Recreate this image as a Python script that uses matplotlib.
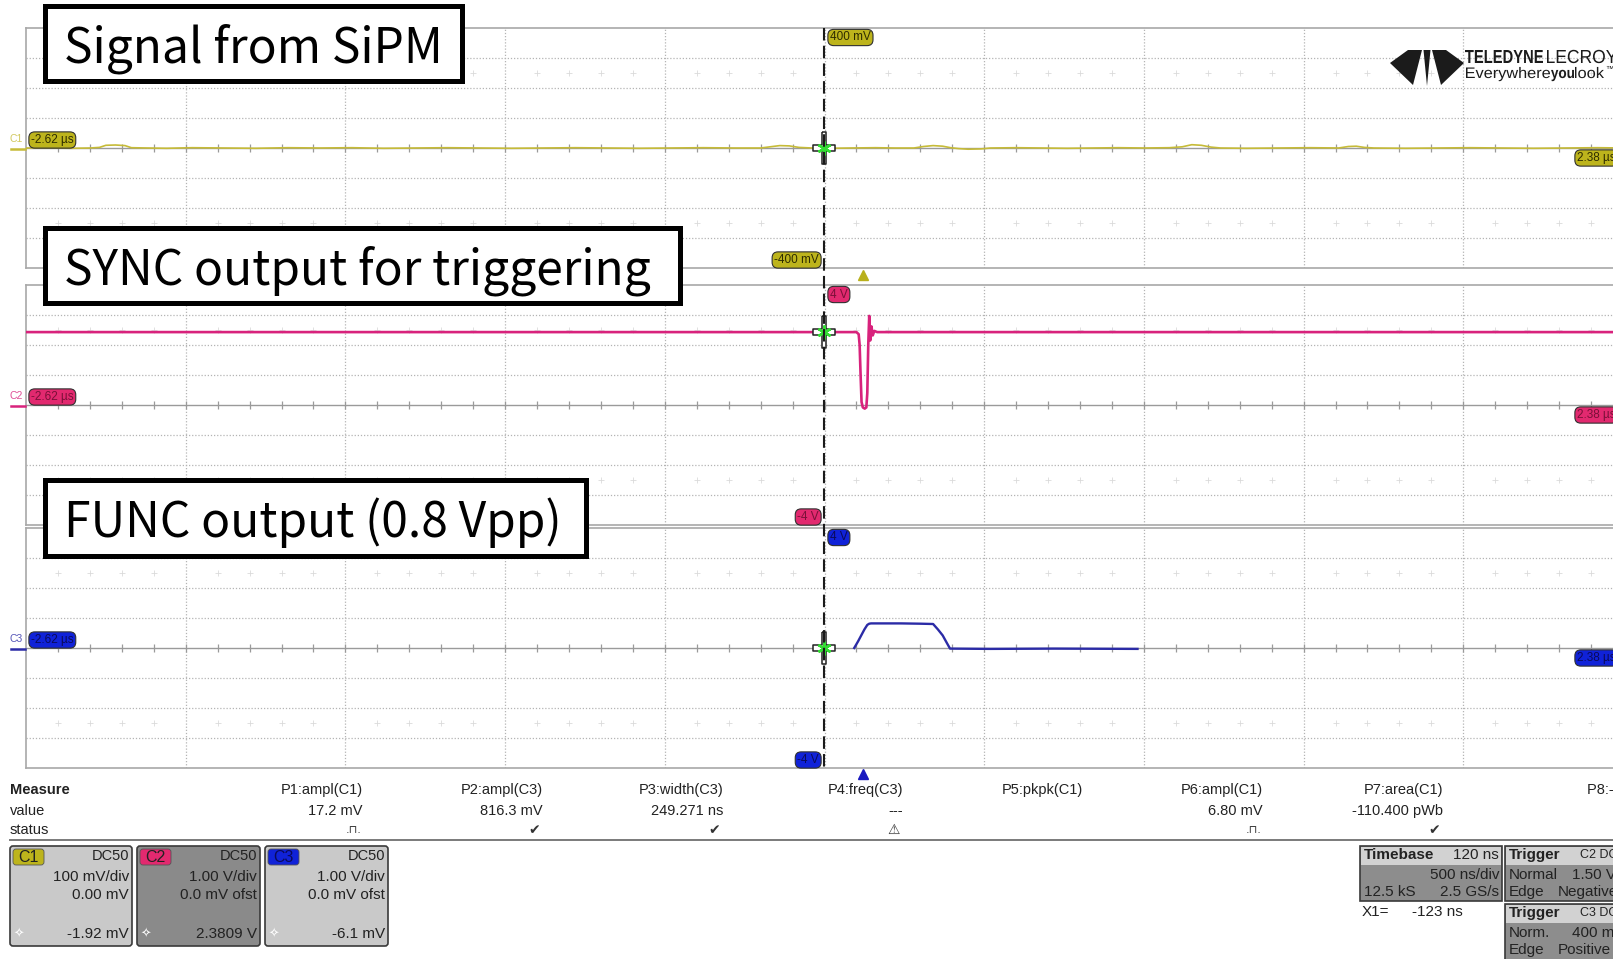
import numpy as np
import matplotlib
matplotlib.use("Agg")
import matplotlib.pyplot as plt
import matplotlib.transforms as mtransforms
from matplotlib.patches import FancyBboxPatch, Rectangle, Polygon, PathPatch
from matplotlib.lines import Line2D
from matplotlib.textpath import TextPath
from matplotlib.font_manager import FontProperties

# ------------------------------------------------------------------ data
t_left_ns = -2620          # left edge of screen (-2.62 us)
ns_per_div = 500           # 500 ns/div
n_xdiv = 10
cursor_x1_ns = -123        # X1 cursor
trigger_t_ns = 0

# C1: signal from SiPM (mV), 100 mV/div
c1_t = [-2620, -2560, -2480, -2420, -2390, -2370, -2340, -2310, -2290, -2240,
        -2180, -2100, -2000, -1900, -1800, -1700, -1600, -1500, -1400, -1300,
        -1200, -1100, -1000, -900, -800, -700, -600, -500, -400, -320,
        -290, -260, -230, -200, -160, -100, -40, 40, 100, 160,
        190, 220, 250, 275, 300, 330, 370, 400, 480, 560,
        640, 720, 800, 880, 960, 1000, 1030, 1060, 1090, 1120,
        1200, 1300, 1400, 1490, 1520, 1545, 1570, 1600, 1700, 1800,
        1900, 2000, 2100, 2200, 2300, 2380]
c1_mv = [0, 0.5, -1, 0, 2, 9, 10, 8, 1, 0,
         -1, 1, 0, -1, 1, 0, 1, -1, 0, 1,
         0, -1, 0, 1, 0, -1, 0, 1, 0, 0,
         4, 8, 7, 2, 0, -1, 0, 1, 0, 0,
         5, 8, 6, 1, -2, -4, -3, 0, 1, 0,
         -1, 0, 1, 0, 1, 4, 11, 9, 3, 0,
         -1, 0, 1, 0, 5, 6, 2, 0, -1, 0,
         1, 0, -1, 0, 1, 0]

# C2: SYNC output (V), 1 V/div
c2_t = [-2620, -20, -13, -10, -7, -4, 0, 6, 11, 14, 17, 20, 23, 27, 31, 36, 45, 2380]
c2_v = [2.43, 2.43, 2.36, 2.0, 1.0, 0.1, -0.08, -0.12, -0.08, 0.4, 2.0, 2.97,
        2.15, 2.62, 2.32, 2.47, 2.43, 2.43]

# C3: FUNC output (V), 1 V/div
c3_t = [-27, -15, -5, 5, 14, 20, 26, 60, 120, 180, 220, 235, 250, 264, 273, 400, 600, 860]
c3_v = [0.0, 0.22, 0.42, 0.62, 0.77, 0.81, 0.82, 0.82, 0.82, 0.81, 0.80, 0.62,
        0.42, 0.15, -0.02, -0.03, -0.02, -0.03]

ch_names = ["C1", "C2", "C3"]
ch_div = [100, 1.0, 1.0]
ch_top_label = ["400 mV", "4 V", "4 V"]
ch_bot_label = ["-400 mV", "-4 V", "-4 V"]
left_time_label = "-2.62 µs"
right_time_label = "2.38 µs"
panel_titles = ["Signal from SiPM", "SYNC output for triggering", "FUNC output (0.8 Vpp)"]

meas_names = ["P1:ampl(C1)", "P2:ampl(C3)", "P3:width(C3)", "P4:freq(C3)",
              "P5:pkpk(C1)", "P6:ampl(C1)", "P7:area(C1)", "P8:- -"]
meas_values = ["17.2 mV", "816.3 mV", "249.271 ns", "---", "", "6.80 mV", "-110.400 pWb", ""]
meas_status = ["pulse", "ok", "ok", "warn", "", "pulse", "ok", ""]

ch_coupling = ["DC50", "DC50", "DC50"]
ch_vdiv = ["100 mV/div", "1.00 V/div", "1.00 V/div"]
ch_offset = ["0.00 mV", "0.0 mV ofst", "0.0 mV ofst"]
ch_readout = ["-1.92 mV", "2.3809 V", "-6.1 mV"]

timebase = ["Timebase", "120 ns", "500 ns/div", "12.5 kS", "2.5 GS/s"]
x1_text = ["X1=", "-123 ns"]
trig1 = ["Trigger", "C2 DC50", "Normal", "1.50 V", "Edge", "Negative"]
trig2 = ["Trigger", "C3 DC50", "Norm.", "400 mV", "Edge", "Positive"]

# ------------------------------------------------------------------ style
W, H = 1613, 959
fig = plt.figure(figsize=(W / 100, H / 100), dpi=100)
fig.patch.set_facecolor("white")
pix = mtransforms.Affine2D().scale(1 / W, -1 / H).translate(0, 1) + fig.transFigure

UI = ["Liberation Sans", "DejaVu Sans"]
BIG = ["Noto Sans CJK KR", "DejaVu Sans"]

trace_col = ["#c6bb38", "#d8227c", "#2b2ba6"]
tag_col = ["#bdb41c", "#e2296f", "#1022d8"]
tag_txt = ["#2e2c00", "#7a1038", "#0a0a5a"]

panels_px = [(28, 268), (285, 525), (528, 768)]
x0_px, x1_px = 26, 26 + 159.7 * n_xdiv

def T(x, y, s, **kw):
    kw.setdefault("transform", pix)
    return fig.text(x, y, s, **kw)

axes = []
for i, (ytop, ybot) in enumerate(panels_px):
    ax = fig.add_axes([x0_px / W, 1 - ybot / H, (x1_px - x0_px) / W, (ybot - ytop) / H])
    ax.set_xlim(t_left_ns, t_left_ns + n_xdiv * ns_per_div)
    d = ch_div[i]
    ax.set_ylim(-4 * d, 4 * d)
    ax.set_xticks([]); ax.set_yticks([])
    for sp in ax.spines.values():
        sp.set_color("#a8a8a8"); sp.set_linewidth(1.2)
    for k in range(1, n_xdiv):
        ax.axvline(t_left_ns + k * ns_per_div, color="#b4b4b4", lw=0.9, ls=(0, (1, 1.5)), zorder=1)
    for k in [-3, -2, -1, 1, 2, 3]:
        ax.axhline(k * d, color="#b4b4b4", lw=0.9, ls=(0, (1, 1.5)), zorder=1)
    ax.axhline(0, color="#9a9a9a", lw=1.0, zorder=1)
    minor = np.arange(t_left_ns + ns_per_div / 5, t_left_ns + n_xdiv * ns_per_div, ns_per_div / 5)
    ax.plot(minor, np.zeros_like(minor), ls="none", marker="|", ms=6, mew=0.9, color="#9a9a9a", zorder=1)
    mk = np.array([m for m in minor if abs(((m - t_left_ns) / ns_per_div) % 1) > 0.05
                   and abs(((m - t_left_ns) / ns_per_div) % 1) < 0.95])
    for yy in (2.5 * d, -2.5 * d):
        ax.plot(mk, np.full_like(mk, yy), ls="none", marker="+", ms=4, mew=0.6, color="#dadada", zorder=1)
    axes.append(ax)

ax1, ax2, ax3 = axes
ax1.plot(c1_t, c1_mv, color=trace_col[0], lw=1.2, zorder=3)
ax2.plot(c2_t, c2_v, color=trace_col[1], lw=1.9, zorder=3)
ax3.plot(c3_t, c3_v, color=trace_col[2], lw=1.7, zorder=3)

# cursor X1 (dashed vertical line across all panels)
bl = mtransforms.blended_transform_factory(ax1.transData, pix)
fig.add_artist(Line2D([cursor_x1_ns, cursor_x1_ns], [28, 768], transform=bl,
                      color="#1a1a1a", lw=1.5, ls=(0, (6, 2.5)), zorder=5))

cross = [(-0.22, 1.5), (0.22, 1.5), (0.22, 0.3), (1.05, 0.3), (1.05, -0.3), (0.22, -0.3),
         (0.22, -1.5), (-0.22, -1.5), (-0.22, -0.3), (-1.05, -0.3), (-1.05, 0.3),
         (-0.22, 0.3), (-0.22, 1.5)]
for ax, tt, vv in [(ax1, c1_t, c1_mv), (ax2, c2_t, c2_v), (ax3, c3_t, c3_v)]:
    yv = np.interp(cursor_x1_ns, tt, vv, left=0.0, right=0.0)
    ax.plot([cursor_x1_ns], [yv], marker=cross, ms=23, mfc="white", mec="#222222", mew=1.1,
            ls="none", zorder=6, clip_on=False)
    ax.plot([cursor_x1_ns], [yv], marker=(6, 2, 0), ms=10, mec="#33dd33", mew=1.8,
            ls="none", zorder=7, clip_on=False)

# trigger-position triangles
fig.add_artist(Line2D([trigger_t_ns], [274.5], transform=bl, marker="^", ms=7,
                      color="#b9b01c", ls="none"))
fig.add_artist(Line2D([trigger_t_ns], [773.5], transform=bl, marker="^", ms=7,
                      color="#1a1ac0", ls="none"))

# channel labels on the traces
def tag(x, y, s, i, ha="left"):
    T(x, y, s, ha=ha, va="center", fontsize=8.5, family=UI, color=tag_txt[i], zorder=8,
      bbox=dict(boxstyle="round,pad=0.18,rounding_size=0.5", fc=tag_col[i], ec="#303030", lw=0.8))

for i, (ytop, ybot) in enumerate(panels_px):
    yc = (ytop + ybot) / 2
    tag(31, yc - 8, left_time_label, i)
    tag(1577, yc + 10, right_time_label, i)
    tag(830, ytop + 9.5, ch_top_label[i], i)
    tag(819, ybot - 8, ch_bot_label[i], i, ha="right")
    T(16, yc - 9, ch_names[i], ha="center", va="center", fontsize=7.5, family=UI,
      color=trace_col[i], alpha=0.8)
    fig.add_artist(Line2D([11, 25], [yc + 0.5, yc + 0.5], transform=pix, color=trace_col[i], lw=1.8))

# annotation boxes
ann_boxes = [(43, 4, 464, 83), (43, 226, 682, 305), (43, 478, 588, 558)]
for (bx0, by0, bx1, by1), s in zip(ann_boxes, panel_titles):
    fig.add_artist(Rectangle((bx0 + 2, by0 + 2), bx1 - bx0 - 4, by1 - by0 - 4, transform=pix,
                             fc="white", ec="black", lw=3.6, zorder=10))
    T(64, (by0 + by1) / 2 + 19.5, s, ha="left", va="baseline", fontsize=34.5, family=BIG,
      color="black", zorder=11)

# Teledyne LeCroy logo
mid = 1427
left_w = [(1390, 63), (1408, 50), (1422, 50), (1413, 85)]
right_w = [(2 * mid - x, y) for x, y in left_w]
center_w = [(1423.5, 50), (1430.5, 50), (1427, 86)]
for poly in (left_w, right_w, center_w):
    fig.add_artist(Polygon(poly, closed=True, transform=pix, fc="#1b1b1b", ec="none"))

def path_text(s, x, base, cap, width, weight="normal"):
    fp = FontProperties(family=UI, weight=weight)
    ref = TextPath((0, 0), "E", size=1, prop=fp).get_extents()
    tp = TextPath((0, 0), s, size=1, prop=fp)
    ext = tp.get_extents()
    sx = width / ext.width
    sy = cap / ref.height
    tr = mtransforms.Affine2D().translate(-ext.x0, 0).scale(sx, -sy).translate(x, base) + pix
    fig.add_artist(PathPatch(tp, transform=tr, fc="#1b1b1b", ec="none"))

path_text("TELEDYNE", 1465, 63, 13, 78, "bold")
path_text("LECROY", 1547, 63, 13, 70)
path_text("Everywhere", 1466, 78, 10.5, 84)
path_text("you", 1551, 78, 10.5, 23, "bold")
path_text("look", 1575, 78, 10.5, 29)
T(1605, 71, "™", ha="left", va="baseline", fontsize=6, family=UI, color="#1b1b1b")

# ------------------------------------------------------------------ measurement table
FS = 10.5
T(10, 790, "Measure", ha="left", va="center", fontsize=FS, fontweight="bold", family=UI, color="#222222")
T(10, 811, "value", ha="left", va="center", fontsize=FS, family=UI, color="#222222")
T(10, 830, "status", ha="left", va="center", fontsize=FS, family=UI, color="#222222")
col_right = [363 + 180 * k for k in range(len(meas_names))]
for xr, nm, val, st in zip(col_right, meas_names, meas_values, meas_status):
    T(xr, 790, nm, ha="right", va="center", fontsize=FS, family=UI, color="#222222")
    if val:
        T(xr, 811, val, ha="right", va="center", fontsize=FS, family=UI, color="#222222")
    if st == "ok":
        T(xr - 9, 830, "✔", ha="center", va="center", fontsize=10, family=["DejaVu Sans"], color="#333333")
    elif st == "warn":
        T(xr - 9, 830, "⚠", ha="center", va="center", fontsize=10, family=["DejaVu Sans"], color="#333333")
    elif st == "pulse":
        T(xr - 9, 830, ".⊓.", ha="center", va="center", fontsize=8, family=["DejaVu Sans"], color="#333333")
fig.add_artist(Line2D([10, W], [840, 840], transform=pix, color="#7a7a7a", lw=1.4))

# ------------------------------------------------------------------ channel descriptor boxes
box_x = [(10, 132), (137, 260), (265, 388)]
box_bg = ["#c9c9c9", "#8a8a8a", "#c9c9c9"]
for i, (bx0, bx1) in enumerate(box_x):
    fig.add_artist(FancyBboxPatch((bx0, 846), bx1 - bx0, 100, transform=pix,
                                  boxstyle="round,pad=0,rounding_size=3",
                                  fc=box_bg[i], ec="#3a3a3a", lw=1.2))
    fig.add_artist(FancyBboxPatch((bx0 + 3, 849), 31, 16, transform=pix,
                                  boxstyle="round,pad=0,rounding_size=3",
                                  fc=tag_col[i], ec="#555555", lw=0.6))
    T(bx0 + 18.5, 857.5, ch_names[i], ha="center", va="center", fontsize=11.5, family=UI,
      color=tag_txt[i] if i == 2 else "#222222")
    xr = bx1 - 3
    T(xr, 856, ch_coupling[i], ha="right", va="center", fontsize=10.5, family=UI, color="#222222")
    T(xr, 877, ch_vdiv[i], ha="right", va="center", fontsize=11, family=UI, color="#222222")
    T(xr, 895, ch_offset[i], ha="right", va="center", fontsize=11, family=UI, color="#222222")
    T(xr, 934, ch_readout[i], ha="right", va="center", fontsize=11, family=UI, color="#222222")
    T(bx0 + 9, 934, "✧", ha="center", va="center", fontsize=9, family=["DejaVu Sans"], color="white")

# timebase box
def info_box(x0, y0, w, h, hh):
    fig.add_artist(Rectangle((x0, y0), w, h, transform=pix, fc="#8d8d8d", ec="#3a3a3a", lw=1.2))
    fig.add_artist(Rectangle((x0 + 1, y0 + 1), w - 2, hh, transform=pix, fc="#d2d2d2", ec="none"))

info_box(1360, 846, 142, 55, 18)
T(1364, 855, timebase[0], ha="left", va="center", fontsize=11, fontweight="bold", family=UI, color="#222222")
T(1499, 855, timebase[1], ha="right", va="center", fontsize=11, family=UI, color="#222222")
T(1499, 875, timebase[2], ha="right", va="center", fontsize=11, family=UI, color="#222222")
T(1364, 892, timebase[3], ha="left", va="center", fontsize=11, family=UI, color="#222222")
T(1499, 892, timebase[4], ha="right", va="center", fontsize=11, family=UI, color="#222222")
T(1362, 912, x1_text[0], ha="left", va="center", fontsize=11, family=UI, color="#222222")
T(1412, 912, x1_text[1], ha="left", va="center", fontsize=11, family=UI, color="#222222")

for (y0, tr) in [(846, trig1), (904, trig2)]:
    info_box(1505, y0, 130, 58 if y0 == 904 else 55, 18)
    T(1509, y0 + 9, tr[0], ha="left", va="center", fontsize=11, fontweight="bold", family=UI, color="#222222")
    T(1580, y0 + 9, tr[1], ha="left", va="center", fontsize=9, family=UI, color="#222222")
    T(1509, y0 + 29, tr[2], ha="left", va="center", fontsize=11, family=UI, color="#222222")
    T(1572, y0 + 29, tr[3], ha="left", va="center", fontsize=11, family=UI, color="#222222")
    T(1509, y0 + 46, tr[4], ha="left", va="center", fontsize=11, family=UI, color="#222222")
    T(1558, y0 + 46, tr[5], ha="left", va="center", fontsize=11, family=UI, color="#222222")

fig.savefig("out.png", dpi=100, facecolor="white")
